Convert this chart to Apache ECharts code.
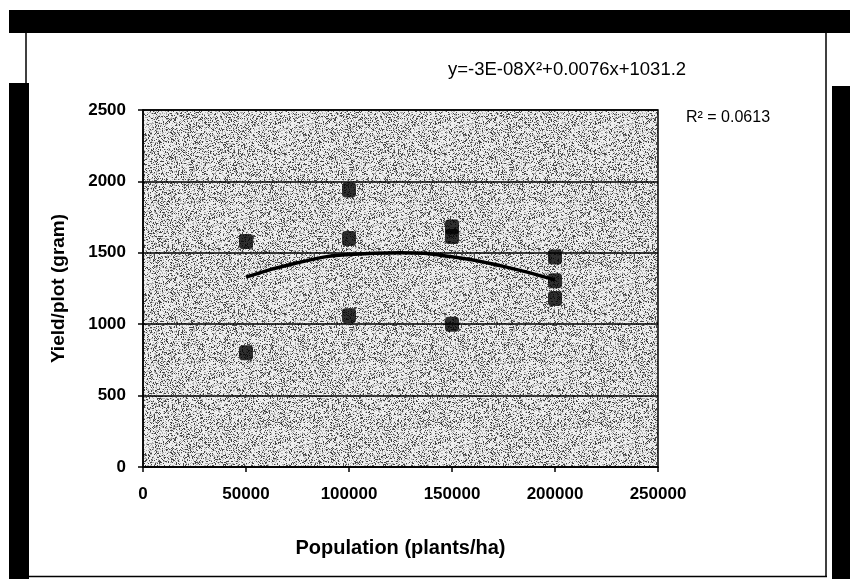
<!DOCTYPE html>
<html>
<head>
<meta charset="utf-8" />
<title>Yield vs population</title>
<script src="https://cdn.jsdelivr.net/npm/echarts@6/dist/echarts.min.js"></script>
<style>
  * { padding: 0; margin: 0; }
  body { background: #fff; }
  #main { width: 850px; height: 579px; }
</style>
</head>
<body>
<div id="main"></div>
<script type="text/javascript">
// plants/ha and yield per plot (gram)
var popX   = [50000, 50000, 100000, 100000, 100000, 150000, 150000, 150000, 200000, 200000, 200000];
var yieldY = [1580, 800, 1940, 1600, 1060, 1680, 1615, 1000, 1470, 1305, 1180];

// polynomial trend line as drawn
var trendX = [50000, 75000, 100000, 125000, 150000, 175000, 200000];
var trendY = [1330, 1430, 1488, 1500, 1472, 1405, 1310];

var yTicks = [0, 500, 1000, 1500, 2000, 2500];
var xTicks = [0, 50000, 100000, 150000, 200000, 250000];

var eqText = 'y=-3E-08X\u00b2+0.0076x+1031.2';
var r2Text = 'R\u00b2 = 0.0613';

// stippled grey plot background (scanned look)
function makeStipple() {
  var c = document.createElement('canvas');
  c.width = 160; c.height = 160;
  var ctx = c.getContext('2d');
  var img = ctx.createImageData(160, 160);
  var seed = 12345;
  for (var i = 0; i < 160 * 160; i++) {
    seed = (seed * 1103515245 + 12345) & 0x7fffffff;
    var r = (seed >> 8) / 8388608;
    var v = r < 0.18 ? 70 : (r < 0.38 ? 175 : 238);
    img.data[i * 4] = v; img.data[i * 4 + 1] = v; img.data[i * 4 + 2] = v; img.data[i * 4 + 3] = 255;
  }
  ctx.putImageData(img, 0, 0);
  return c;
}

var scatterData = popX.map(function (x, i) { return [x, yieldY[i]]; });
var trendData = trendX.map(function (x, i) { return [x, trendY[i]]; });

var font = '"Liberation Sans", Arial, sans-serif';
var plain = function (v) { return String(v); };

var myChart = echarts.init(document.getElementById('main'));

var option = {
  backgroundColor: '#fff',
  animation: false,
  grid: {
    left: 143,
    right: 192,
    top: 110,
    bottom: 112,
    show: true,
    borderColor: '#000',
    borderWidth: 1.5,
    backgroundColor: { image: makeStipple(), repeat: 'repeat' }
  },
  xAxis: {
    type: 'value',
    min: xTicks[0],
    max: xTicks[xTicks.length - 1],
    interval: 50000,
    name: 'Population (plants/ha)',
    nameLocation: 'middle',
    nameGap: 71,
    nameTextStyle: { color: '#000', fontSize: 20, fontWeight: 'bold', fontFamily: font },
    axisLine: { show: true, lineStyle: { color: '#000', width: 1.5 } },
    axisTick: { show: true, length: 5, lineStyle: { color: '#000', width: 1.5 } },
    axisLabel: { color: '#000', fontSize: 17, fontWeight: 'bold', fontFamily: font, margin: 19, formatter: plain },
    splitLine: { show: false }
  },
  yAxis: {
    type: 'value',
    min: yTicks[0],
    max: yTicks[yTicks.length - 1],
    interval: 500,
    name: 'Yield/plot (gram)',
    nameLocation: 'middle',
    nameGap: 75,
    nameTextStyle: { color: '#000', fontSize: 19, fontWeight: 'bold', fontFamily: font },
    axisLine: { show: true, lineStyle: { color: '#000', width: 1.5 } },
    axisTick: { show: true, length: 5, lineStyle: { color: '#000', width: 1.5 } },
    axisLabel: { color: '#000', fontSize: 17, fontWeight: 'bold', fontFamily: font, margin: 17, formatter: plain },
    splitLine: { show: true, lineStyle: { color: '#000', width: 1.5 } }
  },
  graphic: [
    { type: 'rect', shape: { x: 9, y: 10, width: 841, height: 23 }, style: { fill: '#000' } },
    { type: 'line', shape: { x1: 26, y1: 33, x2: 26, y2: 84 }, style: { stroke: '#000', lineWidth: 1.5 } },
    { type: 'rect', shape: { x: 9, y: 83, width: 20, height: 496 }, style: { fill: '#000' } },
    { type: 'line', shape: { x1: 28, y1: 576.5, x2: 827, y2: 576.5 }, style: { stroke: '#000', lineWidth: 1.5 } },
    { type: 'line', shape: { x1: 826, y1: 33, x2: 826, y2: 577 }, style: { stroke: '#000', lineWidth: 1.5 } },
    { type: 'rect', shape: { x: 832, y: 86, width: 18, height: 493 }, style: { fill: '#000' } },
    { type: 'text', left: 448, top: 60, style: { text: eqText, fill: '#000', font: '18.5px ' + font } },
    { type: 'text', left: 686, top: 110, style: { text: r2Text, fill: '#000', font: '16px ' + font } }
  ],
  series: [
    {
      name: 'trend',
      type: 'line',
      data: trendData,
      smooth: true,
      symbol: 'none',
      lineStyle: { color: '#000', width: 3.5 },
      z: 3
    },
    {
      name: 'yield',
      type: 'scatter',
      data: scatterData,
      symbol: 'roundRect',
      symbolSize: [14, 15],
      itemStyle: { color: '#000' },
      z: 4
    }
  ]
};

myChart.setOption(option);
</script>
</body>
</html>
